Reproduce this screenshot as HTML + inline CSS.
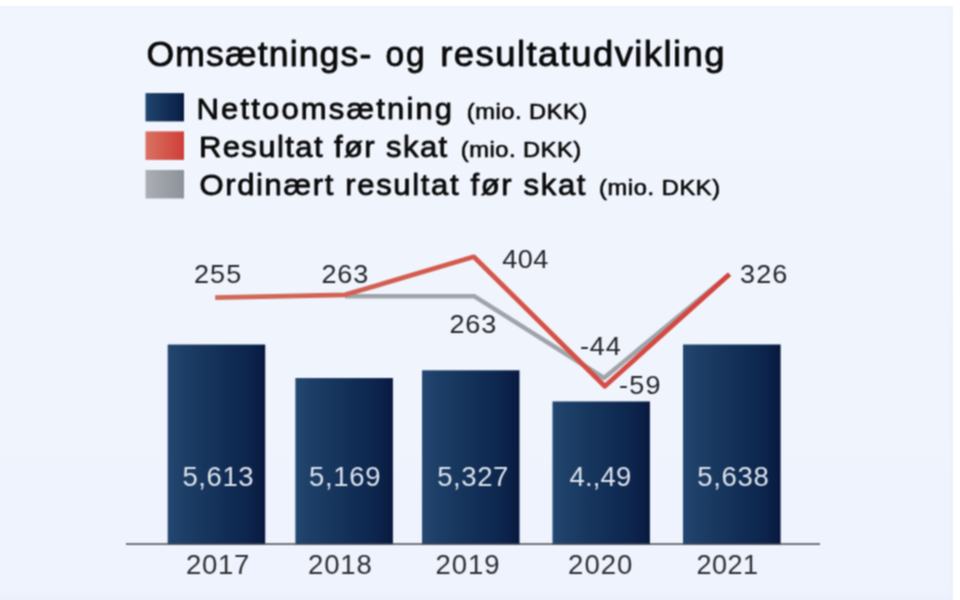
<!DOCTYPE html>
<html lang="da">
<head>
<meta charset="utf-8">
<title>Omsætnings- og resultatudvikling</title>
<style>
  html,body{margin:0;padding:0;background:#ffffff;}
  body{width:960px;height:600px;overflow:hidden;}
  svg{display:block;}
  text{font-family:"Liberation Sans",sans-serif;}
</style>
</head>
<body>
<svg width="960" height="600" viewBox="0 0 960 600">
  <defs>
    <linearGradient id="bg" x1="0" y1="0" x2="0" y2="1">
      <stop offset="0" stop-color="#f1f5fd"/>
      <stop offset="0.97" stop-color="#eff3fd"/>
      <stop offset="1" stop-color="#e9effb"/>
    </linearGradient>
    <linearGradient id="navy" x1="0" y1="0" x2="1" y2="0">
      <stop offset="0" stop-color="#234771"/>
      <stop offset="0.15" stop-color="#1d3f67"/>
      <stop offset="0.4" stop-color="#16355d"/>
      <stop offset="0.6" stop-color="#112d55"/>
      <stop offset="0.8" stop-color="#0d264e"/>
      <stop offset="0.95" stop-color="#0a1d43"/>
      <stop offset="1" stop-color="#07163b"/>
    </linearGradient>
    <linearGradient id="red" x1="0" y1="0" x2="1" y2="0">
      <stop offset="0" stop-color="#d97262"/>
      <stop offset="1" stop-color="#cf3e39"/>
    </linearGradient>
    <linearGradient id="grey" x1="0" y1="0" x2="1" y2="0">
      <stop offset="0" stop-color="#abafb5"/>
      <stop offset="1" stop-color="#8d9198"/>
    </linearGradient>
    <linearGradient id="redline" gradientUnits="userSpaceOnUse" x1="216" y1="0" x2="730" y2="0">
      <stop offset="0" stop-color="#d06b59"/>
      <stop offset="0.5" stop-color="#d4584c"/>
      <stop offset="1" stop-color="#d5423b"/>
    </linearGradient>
    <filter id="soft" x="-2%" y="-2%" width="104%" height="104%" color-interpolation-filters="sRGB">
      <feConvolveMatrix order="3" kernelMatrix="1 2 1 2 4 2 1 2 1" divisor="16" edgeMode="none" preserveAlpha="false"/>
    </filter>
  </defs>

  <!-- page + panel -->
  <rect x="0" y="0" width="960" height="600" fill="#ffffff"/>
  <g filter="url(#soft)">
    <rect x="-5" y="6" width="957.9" height="600" fill="url(#bg)"/>
    <rect x="949" y="6" width="3.9" height="600" fill="#e9eefb" opacity="0.3"/>
    <rect x="-5" y="6" width="957.9" height="2.2" fill="#e9eefb" opacity="0.35"/>
  </g>

  <g filter="url(#soft)">
  <!-- title -->
    <text transform="translate(146.44,66.2) scale(1.03,1)" font-size="34.5" fill="#0b0b0b" stroke="#0b0b0b" stroke-width="0.85" stroke-linejoin="round" textLength="218.32" lengthAdjust="spacing">Omsætnings-</text>
    <text transform="translate(385.44,66.2) scale(0.97,1)" font-size="34.5" fill="#0b0b0b" stroke="#0b0b0b" stroke-width="0.85" stroke-linejoin="round" textLength="40.42" lengthAdjust="spacing">og</text>
    <text transform="translate(440.30,66.2) scale(1.06,1)" font-size="34.5" fill="#0b0b0b" stroke="#0b0b0b" stroke-width="0.85" stroke-linejoin="round" textLength="268.11" lengthAdjust="spacing">resultatudvikling</text>

  <!-- legend swatches -->
  <rect x="145.5" y="93.1" width="38.5" height="28.3" fill="url(#navy)"/>
  <rect x="145.5" y="131.4" width="38.5" height="28.5" fill="url(#red)"/>
  <rect x="145.5" y="170" width="38.5" height="28.5" fill="url(#grey)"/>

  <!-- legend labels -->
    <text transform="translate(196.48,118.7) scale(1.08,1)" font-size="28.7" fill="#0b0b0b" stroke="#0b0b0b" stroke-width="0.8" stroke-linejoin="round" textLength="236.70" lengthAdjust="spacing">Nettoomsætning</text>
    <text transform="translate(466.76,118.7) scale(1.1,1)" font-size="21.5" fill="#0b0b0b" stroke="#0b0b0b" stroke-width="0.65" stroke-linejoin="round" textLength="109.50" lengthAdjust="spacing">(mio. DKK)</text>
    <text transform="translate(198.89,157.1) scale(1.08,1)" font-size="28.7" fill="#0b0b0b" stroke="#0b0b0b" stroke-width="0.8" stroke-linejoin="round" textLength="229.90" lengthAdjust="spacing">Resultat før skat</text>
    <text transform="translate(460.76,157.1) scale(1.1,1)" font-size="21.5" fill="#0b0b0b" stroke="#0b0b0b" stroke-width="0.65" stroke-linejoin="round" textLength="109.50" lengthAdjust="spacing">(mio. DKK)</text>
    <text transform="translate(199.40,195.0) scale(1.08,1)" font-size="28.7" fill="#0b0b0b" stroke="#0b0b0b" stroke-width="0.8" stroke-linejoin="round" textLength="357.44" lengthAdjust="spacing">Ordinært resultat før skat</text>
    <text transform="translate(599.03,195.0) scale(1.1,1)" font-size="21.5" fill="#0b0b0b" stroke="#0b0b0b" stroke-width="0.65" stroke-linejoin="round" textLength="110.06" lengthAdjust="spacing">(mio. DKK)</text>

  <!-- bars -->
  <rect x="167.7" y="344.55" width="97.50" height="199.85" fill="url(#navy)"/>
  <rect x="295.4" y="378.05" width="97.50" height="166.35" fill="url(#navy)"/>
  <rect x="422.05" y="370.3" width="97.45" height="174.10" fill="url(#navy)"/>
  <rect x="552.5" y="401.45" width="97.40" height="142.95" fill="url(#navy)"/>
  <rect x="683.0" y="344.5" width="97.60" height="199.90" fill="url(#navy)"/>

  <!-- axis -->
  <rect x="126" y="543.3" width="694" height="1.5" fill="#4a4a50"/>

  <!-- lines -->
  <polyline points="345,296.3 474.5,296.3 604,378 729.5,274.3" fill="none" stroke="#a0a4aa" stroke-width="4.5" stroke-linejoin="round"/>
  <polyline points="215.2,297.6 345,294.8 473.8,256.8 604.8,386.2 729.5,274.3" fill="none" stroke="url(#redline)" stroke-width="4.8" stroke-linejoin="round"/>

  <!-- value labels -->
    <text transform="translate(193.88,283.0) scale(1.06,1)" font-size="25.5" fill="#26262a" textLength="44.66" lengthAdjust="spacing">255</text>
    <text transform="translate(321.42,283.0) scale(1.06,1)" font-size="25.5" fill="#26262a" textLength="44.28" lengthAdjust="spacing">263</text>
    <text transform="translate(502.20,268.0) scale(1.06,1)" font-size="25.5" fill="#26262a" textLength="43.51" lengthAdjust="spacing">404</text>
    <text transform="translate(449.42,332.5) scale(1.06,1)" font-size="25.5" fill="#26262a" textLength="44.28" lengthAdjust="spacing">263</text>
    <text transform="translate(580.02,355.4) scale(1.06,1)" font-size="25.5" fill="#26262a" textLength="38.47" lengthAdjust="spacing">-44</text>
    <text transform="translate(619.02,393.6) scale(1.06,1)" font-size="25.5" fill="#26262a" textLength="39.05" lengthAdjust="spacing">-59</text>
    <text transform="translate(739.92,282.8) scale(1.06,1)" font-size="25.5" fill="#26262a" textLength="44.79" lengthAdjust="spacing">326</text>

  <!-- bar labels -->
    <text transform="translate(182.43,485.7) scale(1.02,1)" font-size="27" fill="#dde2ea" textLength="69.85" lengthAdjust="spacing">5,613</text>
    <text transform="translate(308.88,485.7) scale(1.02,1)" font-size="27" fill="#dde2ea" textLength="70.26" lengthAdjust="spacing">5,169</text>
    <text transform="translate(437.27,485.7) scale(1.02,1)" font-size="27" fill="#dde2ea" textLength="69.66" lengthAdjust="spacing">5,327</text>
    <text transform="translate(569.62,485.7) scale(1.02,1)" font-size="27" fill="#dde2ea" textLength="60.44" lengthAdjust="spacing">4.,49</text>
    <text transform="translate(697.27,485.7) scale(1.02,1)" font-size="27" fill="#dde2ea" textLength="70.23" lengthAdjust="spacing">5,638</text>

  <!-- years -->
    <text transform="translate(186.03,574.4) scale(1.02,1)" font-size="27" fill="#2e2e32" textLength="62.04" lengthAdjust="spacing">2017</text>
    <text transform="translate(308.03,574.4) scale(1.02,1)" font-size="27" fill="#2e2e32" textLength="62.45" lengthAdjust="spacing">2018</text>
    <text transform="translate(435.56,574.4) scale(1.02,1)" font-size="27" fill="#2e2e32" textLength="62.73" lengthAdjust="spacing">2019</text>
    <text transform="translate(568.03,574.4) scale(1.02,1)" font-size="27" fill="#2e2e32" textLength="63.12" lengthAdjust="spacing">2020</text>
    <text transform="translate(696.39,574.4) scale(1.0,1)" font-size="27" fill="#2e2e32" textLength="61.72" lengthAdjust="spacing">2021</text>
  </g>
</svg>
</body>
</html>
